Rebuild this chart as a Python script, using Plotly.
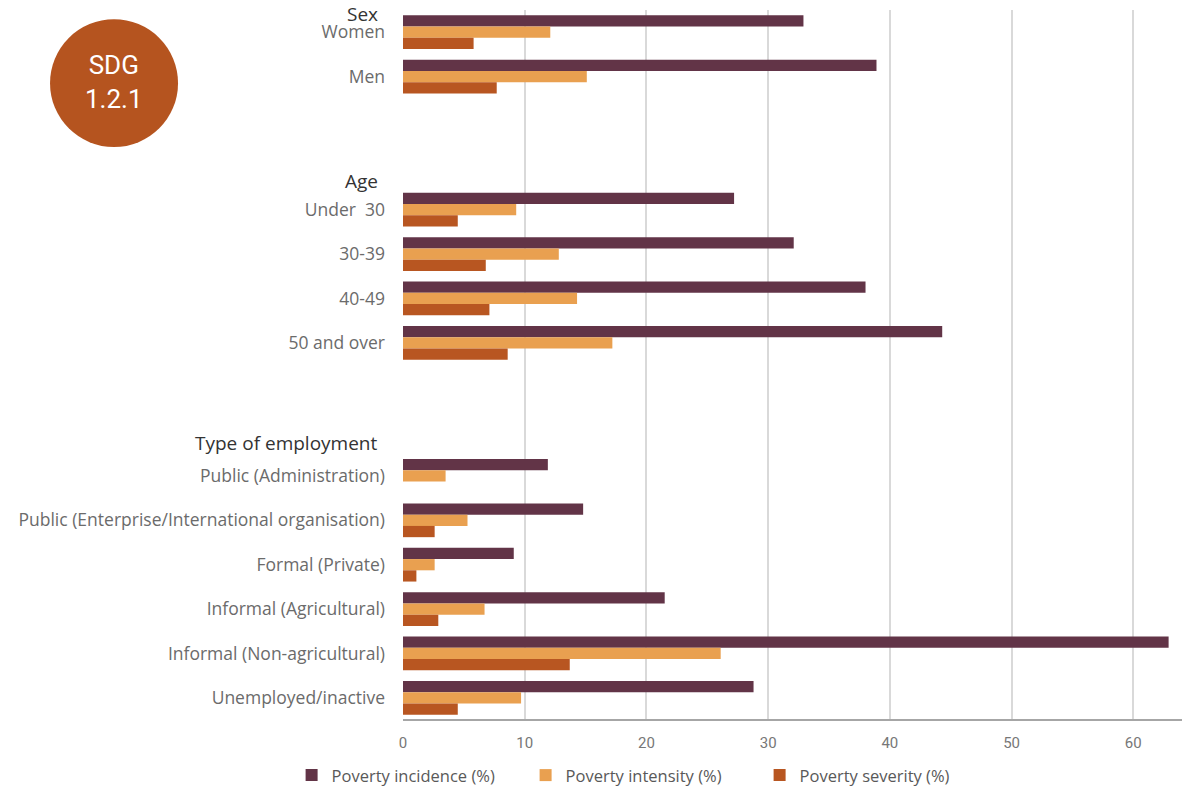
import plotly.graph_objects as go

# Category rows (top to bottom); blank entries are spacer rows between groups
categories = [
    "Women", "Men", " ", "  ",
    "Under  30", "30-39", "40-49", "50 and over", "   ", "    ",
    "Public (Administration)",
    "Public (Enterprise/International organisation)",
    "Formal (Private)",
    "Informal (Agricultural)",
    "Informal (Non-agricultural)",
    "Unemployed/inactive",
]

group_headers = ["Sex", "Age", "Type of employment"]
header_rows = [-0.42, 3.35, 9.26]

incidence = [32.9, 38.9, None, None, 27.2, 32.1, 38.0, 44.3, None, None,
             11.9, 14.8, 9.1, 21.5, 62.9, 28.8]
intensity = [12.1, 15.1, None, None, 9.3, 12.8, 14.3, 17.2, None, None,
             3.5, 5.3, 2.6, 6.7, 26.1, 9.7]
severity = [5.8, 7.7, None, None, 4.5, 6.8, 7.1, 8.6, None, None,
            None, 2.6, 1.1, 2.9, 13.7, 4.5]

series = [
    ("Poverty incidence (%)", incidence, "#623447"),
    ("Poverty intensity (%)", intensity, "#E9A050"),
    ("Poverty severity (%)", severity, "#B85621"),
]

FONT = "Open Sans, sans-serif"

fig = go.Figure()
for name, vals, color in series:
    fig.add_trace(go.Bar(
        x=vals, y=categories, orientation="h", name=name,
        marker=dict(color=color, line=dict(width=0)),
    ))

fig.update_layout(
    width=1182, height=789,
    margin=dict(l=403, r=0, t=10, b=69, autoexpand=False),
    barmode="group", bargap=0.24, bargroupgap=0,
    plot_bgcolor="white", paper_bgcolor="white",
    font=dict(family=FONT, color="#666666"),
    showlegend=True,
    legend=dict(
        orientation="h", x=-0.143, xanchor="left", y=-0.078, yanchor="middle",
        font=dict(size=16.5, color="#595959"), itemwidth=30,
        entrywidth=189, entrywidthmode="pixels",
        traceorder="normal", tracegroupgap=0,
    ),
    xaxis=dict(
        range=[0, 64], tickvals=[0, 10, 20, 30, 40, 50, 60],
        showgrid=True, gridcolor="#d9d9d9", gridwidth=1.5,
        zeroline=False, showline=False,
        tickfont=dict(size=15, color="#777777", family="Roboto, sans-serif"),
        ticks="", ticklabelstandoff=12, fixedrange=True,
    ),
    yaxis=dict(
        type="category", categoryorder="array", categoryarray=categories,
        range=[15.5, -0.5], showgrid=False, zeroline=False,
        showline=False, ticks="", ticklabelstandoff=17,
        tickfont=dict(size=17.5, color="#6b6b6b"),
    ),
)

# bottom axis line
fig.add_shape(type="line", xref="paper", yref="paper", x0=0, x1=1, y0=0, y1=0,
              line=dict(color="#a6a6a6", width=2))

# group headings
for text, row in zip(group_headers, header_rows):
    fig.add_annotation(
        text=text, xref="paper", yref="y", x=-0.030, y=row,
        xanchor="right", yanchor="middle", showarrow=False,
        font=dict(size=19, color="#333333", family=FONT),
    )

# SDG badge
fig.add_shape(type="circle", xref="paper", yref="paper",
              x0=-0.4531, x1=-0.2888, y0=0.807, y1=0.987,
              fillcolor="#B5541F", line=dict(width=0), layer="above")
fig.add_annotation(
    text="SDG<br>1.2.1", xref="paper", yref="paper", x=-0.371, y=0.899,
    xanchor="center", yanchor="middle", showarrow=False,
    font=dict(size=26, color="white", family="Roboto, sans-serif"),
)

fig.write_html("out.html")
